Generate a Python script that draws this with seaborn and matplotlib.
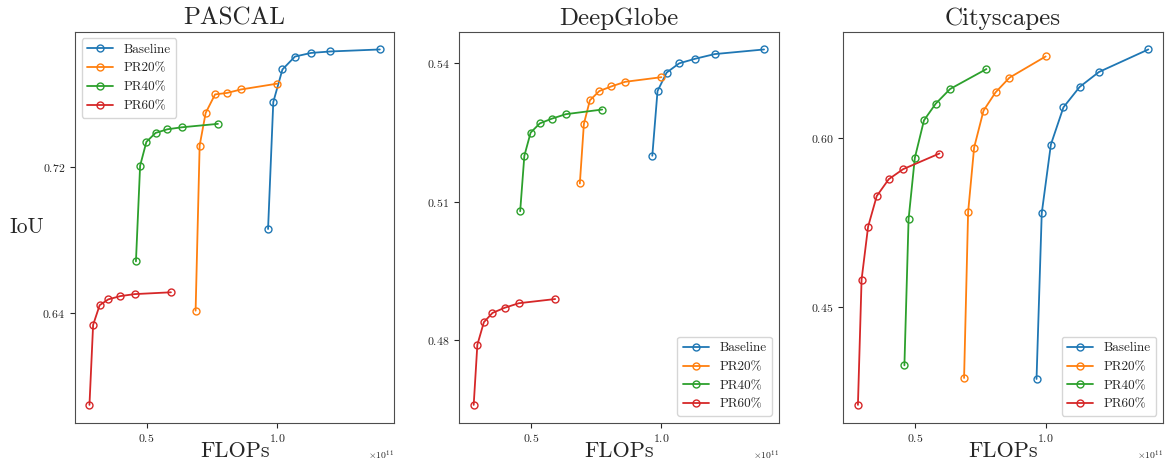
import numpy as np
import matplotlib
matplotlib.use("Agg")
import matplotlib.pyplot as plt
import seaborn as sns

# FLOPs (x 1e11), same for all datasets
flops_baseline = [0.965, 0.985, 1.020, 1.068, 1.130, 1.204, 1.393]
flops_pr20 = [0.6875, 0.703, 0.726, 0.762, 0.808, 0.861, 1.000]
flops_pr40 = [0.459, 0.475, 0.499, 0.534, 0.579, 0.634, 0.773]
flops_pr60 = [0.281, 0.295, 0.320, 0.353, 0.399, 0.454, 0.593]

# IoU, PASCAL
pascal_baseline = [0.686, 0.7558, 0.7737, 0.7808, 0.7828, 0.7836, 0.7847]
pascal_pr20 = [0.6411, 0.7319, 0.7498, 0.7600, 0.7608, 0.7627, 0.7659]
pascal_pr40 = [0.6682, 0.7208, 0.7339, 0.7388, 0.7408, 0.7419, 0.7438]
pascal_pr60 = [0.5893, 0.6333, 0.6441, 0.6473, 0.6491, 0.6502, 0.6512]

# IoU, DeepGlobe
deepglobe_baseline = [0.5199, 0.5339, 0.5379, 0.5399, 0.5409, 0.5419, 0.5429]
deepglobe_pr20 = [0.5139, 0.5268, 0.5319, 0.5339, 0.5349, 0.5359, 0.5369]
deepglobe_pr40 = [0.5079, 0.5199, 0.5249, 0.5269, 0.5279, 0.5289, 0.5299]
deepglobe_pr60 = [0.4660, 0.4790, 0.4839, 0.4859, 0.4870, 0.4880, 0.4889]

# IoU, Cityscapes
cityscapes_baseline = [0.3859, 0.5332, 0.5941, 0.6271, 0.6452, 0.6585, 0.6785]
cityscapes_pr20 = [0.3868, 0.5341, 0.5914, 0.6242, 0.6404, 0.6534, 0.6723]
cityscapes_pr40 = [0.3980, 0.5279, 0.5823, 0.6156, 0.6304, 0.6434, 0.6611]
cityscapes_pr60 = [0.3629, 0.4742, 0.5212, 0.5483, 0.5633, 0.5722, 0.5861]

labels = ["Baseline", "PR20%", "PR40%", "PR60%"]
flops = [flops_baseline, flops_pr20, flops_pr40, flops_pr60]
datasets = ["PASCAL", "DeepGlobe", "Cityscapes"]
ious = [
    [pascal_baseline, pascal_pr20, pascal_pr40, pascal_pr60],
    [deepglobe_baseline, deepglobe_pr20, deepglobe_pr40, deepglobe_pr60],
    [cityscapes_baseline, cityscapes_pr20, cityscapes_pr40, cityscapes_pr60],
]
yticks = [[0.64, 0.72], [0.48, 0.51, 0.54], [0.45, 0.60]]
legend_loc = ["upper left", "lower right", "lower right"]

sns.set_style("ticks")
plt.rcParams["font.family"] = ["cmr10", "DejaVu Serif"]
plt.rcParams["mathtext.fontset"] = "cm"
plt.rcParams["axes.formatter.use_mathtext"] = True
plt.rcParams["axes.edgecolor"] = "0.3"

colors = sns.color_palette("tab10", 4)

fig, axes = plt.subplots(1, 3, figsize=(11.71, 4.66), dpi=100)
plt.subplots_adjust(left=0.064, right=0.993, bottom=0.093, top=0.932, wspace=0.203)

for i, ax in enumerate(axes):
    for j in range(4):
        x = np.array(flops[j]) * 1e11
        sns.lineplot(x=x, y=ious[i][j], ax=ax, color=colors[j], marker="o",
                     markersize=5, mfc="none", mec=colors[j], mew=1.0,
                     linewidth=1.3, label=labels[j])
    ax.set_title(datasets[i], fontsize=18, pad=5)
    ax.set_xlabel("FLOPs", fontsize=16, labelpad=-2)
    ax.set_yticks(yticks[i])
    ax.set_xticks([0.5e11, 1.0e11])
    ax.tick_params(labelsize=8.5, length=3.5, width=0.8)
    ax.xaxis.get_offset_text().set_fontsize(7)
    ax.legend(loc=legend_loc[i], fontsize=9.5)

axes[0].set_ylabel("IoU", fontsize=15.5, rotation=0, ha="center", va="center")
axes[0].yaxis.set_label_coords(-0.15, 0.5)

fig.savefig("out.png", dpi=100)
